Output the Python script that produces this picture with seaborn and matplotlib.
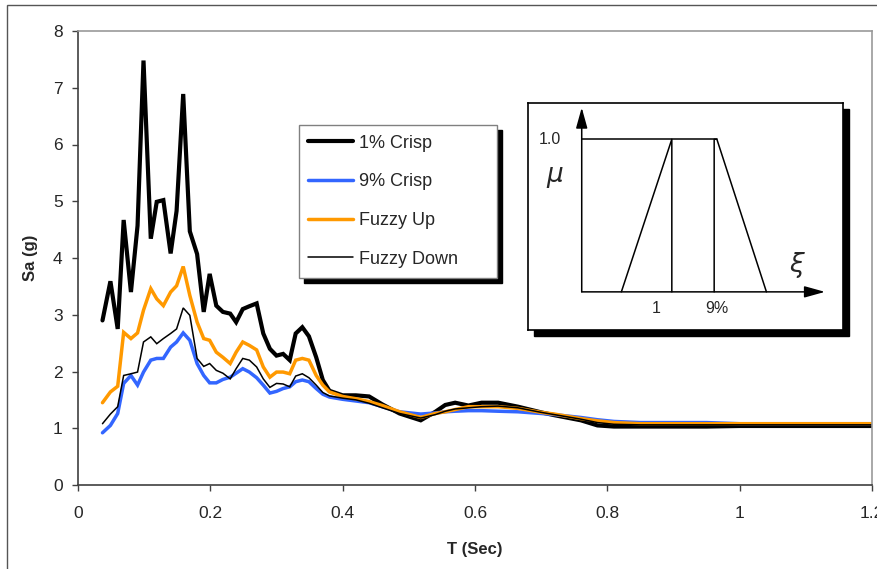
import matplotlib
matplotlib.use("Agg")
import matplotlib.pyplot as plt
import seaborn as sns
import pandas as pd
from matplotlib.patches import Rectangle
from matplotlib.lines import Line2D

# period (sec) and spectral acceleration (g)
period = [0.037, 0.049, 0.060, 0.069, 0.080, 0.090, 0.099, 0.110, 0.119, 0.129,
          0.140, 0.149, 0.159, 0.169, 0.180, 0.190, 0.199, 0.209, 0.219, 0.230,
          0.239, 0.249, 0.259, 0.270, 0.280, 0.290, 0.300, 0.310, 0.320, 0.329,
          0.339, 0.349, 0.360, 0.370, 0.380, 0.400, 0.420, 0.440, 0.460, 0.486,
          0.518, 0.540, 0.555, 0.570, 0.590, 0.610, 0.635, 0.665, 0.700, 0.720,
          0.760, 0.785, 0.810, 0.850, 0.900, 0.950, 1.000, 1.100, 1.200]

crisp_1 = [2.90, 3.59, 2.75, 4.67, 3.40, 4.57, 7.48, 4.34, 4.99, 5.02,
           4.08, 4.83, 6.89, 4.47, 4.07, 3.05, 3.72, 3.16, 3.05, 3.02,
           2.87, 3.10, 3.15, 3.20, 2.67, 2.40, 2.28, 2.31, 2.20, 2.67,
           2.78, 2.62, 2.25, 1.85, 1.66, 1.58, 1.58, 1.56, 1.42, 1.26,
           1.14, 1.29, 1.41, 1.45, 1.40, 1.45, 1.45, 1.38, 1.28, 1.23,
           1.14, 1.05, 1.03, 1.03, 1.03, 1.03, 1.04, 1.04, 1.04]

crisp_9 = [0.92, 1.05, 1.26, 1.79, 1.93, 1.76, 1.99, 2.20, 2.23, 2.23,
           2.43, 2.52, 2.68, 2.55, 2.14, 1.93, 1.80, 1.80, 1.86, 1.90,
           1.97, 2.05, 1.99, 1.89, 1.76, 1.62, 1.65, 1.70, 1.73, 1.82,
           1.85, 1.82, 1.70, 1.60, 1.55, 1.51, 1.48, 1.45, 1.38, 1.29,
           1.25, 1.27, 1.29, 1.30, 1.31, 1.31, 1.30, 1.29, 1.26, 1.24,
           1.19, 1.15, 1.12, 1.10, 1.10, 1.10, 1.08, 1.08, 1.08]

fuzzy_up = [1.45, 1.64, 1.74, 2.69, 2.58, 2.68, 3.08, 3.46, 3.28, 3.16,
            3.40, 3.51, 3.85, 3.34, 2.87, 2.58, 2.55, 2.34, 2.25, 2.14,
            2.34, 2.52, 2.46, 2.38, 2.08, 1.90, 1.99, 1.99, 1.96, 2.20,
            2.23, 2.20, 1.93, 1.76, 1.64, 1.56, 1.52, 1.47, 1.40, 1.29,
            1.19, 1.26, 1.29, 1.33, 1.38, 1.38, 1.38, 1.35, 1.28, 1.25,
            1.17, 1.13, 1.10, 1.08, 1.08, 1.08, 1.08, 1.08, 1.08]

fuzzy_down = [1.08, 1.25, 1.38, 1.93, 1.96, 1.99, 2.52, 2.61, 2.49, 2.58,
              2.67, 2.75, 3.12, 2.99, 2.23, 2.09, 2.14, 2.02, 1.97, 1.87,
              2.05, 2.23, 2.20, 2.08, 1.87, 1.72, 1.79, 1.78, 1.73, 1.92,
              1.96, 1.89, 1.76, 1.63, 1.57, 1.53, 1.50, 1.44, 1.36, 1.26,
              1.18, 1.24, 1.30, 1.34, 1.36, 1.38, 1.39, 1.36, 1.28, 1.24,
              1.16, 1.10, 1.07, 1.06, 1.06, 1.06, 1.06, 1.06, 1.06]

series_names = ["1% Crisp", "9% Crisp", "Fuzzy Up", "Fuzzy Down"]
series_colors = ["#000000", "#3366ff", "#ff9900", "#000000"]
series_widths = [3.0, 2.5, 2.5, 1.1]

x_ticks = [0, 0.2, 0.4, 0.6, 0.8, 1.0, 1.2]
x_tick_labels = ["0", "0.2", "0.4", "0.6", "0.8", "1", "1.2"]
y_ticks = [0, 1, 2, 3, 4, 5, 6, 7, 8]

# inset sketch: membership functions (xi, mu)
mf_fuzzy_xi = [0.44, 1.0, 1.0]
mf_fuzzy_mu = [0.0, 1.0, 0.0]
mf_crisp_xi = [1.47, 1.47, 1.50, 2.05]
mf_crisp_mu = [0.0, 1.0, 1.0, 0.0]
mf_top_xi = [0.0, 1.50]
mf_top_mu = [1.0, 1.0]

sns.set_style("white")
plt.rcParams["font.family"] = ["Liberation Sans", "DejaVu Sans"]

df = pd.DataFrame({"T": period, "1% Crisp": crisp_1, "9% Crisp": crisp_9,
                   "Fuzzy Up": fuzzy_up, "Fuzzy Down": fuzzy_down})

fig = plt.figure(figsize=(8.78, 5.69), dpi=100)
ax = fig.add_axes([78 / 878, 84 / 569, 794 / 878, 454 / 569])

for name, col, lw in zip(series_names, series_colors, series_widths):
    sns.lineplot(data=df, x="T", y=name, color=col, linewidth=lw, ax=ax,
                 solid_joinstyle="miter")

ax.set_xlim(0, 1.2)
ax.set_ylim(0, 8)
ax.set_xticks(x_ticks)
ax.set_xticklabels(x_tick_labels)
ax.set_yticks(y_ticks)
ax.tick_params(axis="both", labelsize=12.5, direction="out", length=4,
               width=1, color="#404040", left=True, bottom=True)
ax.tick_params(axis="x", pad=11)
ax.tick_params(axis="y", pad=7)

for side in ["left", "bottom"]:
    ax.spines[side].set_color("#404040")
    ax.spines[side].set_linewidth(1.2)
for side in ["top", "right"]:
    ax.spines[side].set_color("#999999")
    ax.spines[side].set_linewidth(1.2)

ax.set_xlabel("T (Sec)", fontsize=12, fontweight="bold")
ax.set_ylabel("Sa (g)", fontsize=12, fontweight="bold")
ax.xaxis.set_label_coords(0.5, -0.125)
ax.yaxis.set_label_coords(-0.05, 0.5)

# legend box with a solid drop shadow
leg_box = [0.2783, 0.456, 0.2494, 0.337]
ax.add_patch(Rectangle((leg_box[0] + 5 / 794, leg_box[1] - 5 / 454),
                       leg_box[2], leg_box[3], transform=ax.transAxes,
                       color="black", zorder=4.8, clip_on=False))
ax.add_patch(Rectangle((leg_box[0], leg_box[1]), leg_box[2], leg_box[3],
                       transform=ax.transAxes, facecolor="white",
                       edgecolor="#808080", linewidth=1.0, zorder=4.9,
                       clip_on=False))
handles = [Line2D([], [], color=c, lw=w) for c, w in zip(series_colors, series_widths)]
leg = ax.legend(handles, series_names, loc="upper left",
                bbox_to_anchor=(0.290, 0.772), fontsize=13, frameon=False,
                handlelength=2.5, handletextpad=0.3, labelspacing=1.2,
                borderpad=0, borderaxespad=0)
leg.set_zorder(5)

# inset sketch of membership functions
ins_pos = [0.567, 0.341, 0.3965, 0.500]
ax.add_patch(Rectangle((ins_pos[0] + 6 / 794, ins_pos[1] - 6 / 454),
                       ins_pos[2], ins_pos[3], transform=ax.transAxes,
                       color="black", zorder=4.5, clip_on=False))
ins = ax.inset_axes(ins_pos)
ins.set_facecolor("white")
ins.set_xlim(-0.594, 2.90)
ins.set_ylim(-0.251, 1.236)
ins.set_xticks([])
ins.set_yticks([])
for s in ins.spines.values():
    s.set_color("black")
    s.set_linewidth(1.2)

ins.plot(mf_fuzzy_xi, mf_fuzzy_mu, color="black", lw=1.1)
ins.plot(mf_crisp_xi, mf_crisp_mu, color="black", lw=1.1)
ins.plot(mf_top_xi, mf_top_mu, color="black", lw=1.1)
arrow = dict(arrowstyle="-|>,head_length=0.9,head_width=0.25", color="black",
             lw=1.1, shrinkA=0, shrinkB=0, mutation_scale=14)
ins.annotate("", xy=(2.70, 0), xytext=(0, 0), arrowprops=arrow)
ins.annotate("", xy=(0, 1.207), xytext=(0, 0), arrowprops=arrow)
ins.text(-0.35, 1.0, "1.0", fontsize=11.5, ha="center", va="center")
ins.text(-0.295, 0.75, r"$\mu$", fontsize=19, ha="center", va="center")
ins.text(2.39, 0.175, r"$\xi$", fontsize=19, ha="center", va="center")
ins.text(0.826, -0.107, "1", fontsize=11.5, ha="center", va="center")
ins.text(1.503, -0.107, "9%", fontsize=11.5, ha="center", va="center")

# outer chart border
fig.add_artist(Rectangle((7 / 878, -0.05), 1.1, 1.05 - 5 / 569,
                         transform=fig.transFigure, fill=False,
                         edgecolor="#555555", linewidth=1.0))

fig.savefig("out.png", dpi=100, facecolor="white")
